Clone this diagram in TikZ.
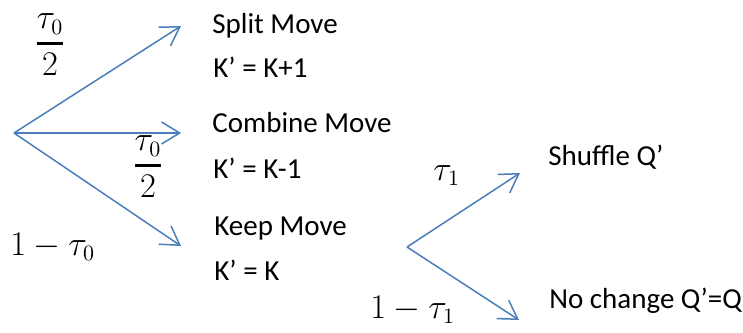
\documentclass[tikz,border=0pt]{standalone}
\usepackage{fontspec}
\usepackage{amsmath}
\setmainfont{Carlito}
\usetikzlibrary{arrows.meta}
\definecolor{arrowblue}{RGB}{74,126,187}
\begin{document}
\begin{tikzpicture}[x=0.5pt,y=-0.5pt,
 arr/.style={draw=arrowblue, line width=0.75pt, -{Straight Barb[length=9pt,width=11pt]}},
 txt/.style={anchor=base west, inner sep=0pt, font=\fontsize{14.5}{17}\selectfont},
 lab/.style={inner sep=0pt, font=\fontsize{16}{19}\selectfont}]
\useasboundingbox (0,0) rectangle (743,332);
% arrows
\coordinate (o1) at (14,133);
\coordinate (t1) at (181,26);
\coordinate (t2) at (181,133);
\coordinate (t3) at (181,246);
\coordinate (o2) at (407,247);
\coordinate (t4) at (520,173);
\coordinate (t5) at (519,320);
\draw[arr] (o1) -- (t1);
\draw[arr] (o1) -- (t2);
\draw[arr] (o1) -- (t3);
\draw[arr] (o2) -- (t4);
\draw[arr] (o2) -- (t5);
% texts
\node[txt] (split) at (212,33) {Split Move};
\node[txt] (kp1) at (213,77) {K’ = K+1};
\node[txt] (comb) at (212,132) {Combine Move};
\node[txt] (km1) at (213,178) {K’ = K-1};
\node[txt] (keep) at (214,235) {Keep Move};
\node[txt] (kk) at (214,280) {K’ = K};
\node[txt] (shuf) at (548,165) {Shuffle Q’};
\node[txt] (noch) at (549,308) {No change Q’=Q};
% labels
\node[lab] (l1) at (50,45) {$\genfrac{}{}{1.2pt}{0}{\tau_0}{2}$};
\node[lab] (l2) at (148,167) {$\genfrac{}{}{1.2pt}{0}{\tau_0}{2}$};
\node[lab,anchor=base west] (l3) at (10,255) {$1-\tau_0$};
\node[lab,anchor=base west] (l4) at (433,180) {$\tau_1$};
\node[lab,anchor=base west] (l5) at (370,318) {$1-\tau_1$};
\end{tikzpicture}
\end{document}
